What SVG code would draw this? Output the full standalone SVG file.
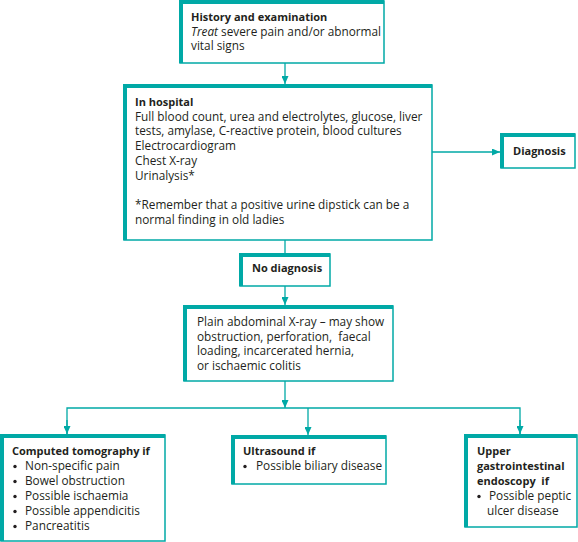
<svg xmlns="http://www.w3.org/2000/svg" width="578" height="542" viewBox="0 0 578 542">
<defs>
<style>
.box{fill:#fff;stroke:#00a9a6;stroke-width:1.5}
.thick{fill:none;stroke:#00a9a6;stroke-width:4}
.con{fill:none;stroke:#00a9a6;stroke-width:1.3}
.ah{fill:#00a9a6}
.dot{fill:#231f20}
text{font-family:"Open Sans","Noto Sans",sans-serif;font-size:11.8px;fill:#231f20}
.b{font-weight:bold;font-size:11px}
</style>
<marker id="arr" viewBox="0 0 8 7" refX="8" refY="3.5" markerWidth="8" markerHeight="7" markerUnits="userSpaceOnUse" orient="auto">
<path d="M0,0 L8,3.5 L0,7 Z" class="ah"/>
</marker>
</defs>
<rect width="578" height="542" fill="#fff"/>
<g id="connectors">
<path class="con" d="M285,63 V84" marker-end="url(#arr)"/>
<path class="con" d="M432,152 H500" marker-end="url(#arr)"/>
<path class="con" d="M285,240 V253"/>
<path class="con" d="M285,286 V305" marker-end="url(#arr)"/>
<path class="con" d="M285,381 V408" marker-end="url(#arr)"/>
<path class="con" d="M67,434 V408 H520 V434"/>
<path class="con" d="M67,420 V434" marker-end="url(#arr)"/>
<path class="con" d="M520,420 V434" marker-end="url(#arr)"/>
<path class="con" d="M308,408 V435" marker-end="url(#arr)"/>
</g>
<g id="history">
<rect class="box" x="180" y="1" width="204" height="62"/>
<path class="thick" d="M181,63 V2 H384"/>
<text x="191" y="21"><tspan class="b">History and examination</tspan><tspan x="191" dy="14.5"><tspan font-style="italic">Treat</tspan> severe pain and/or abnormal</tspan><tspan x="191" dy="14.5">vital signs</tspan></text>
</g>
<g id="hospital">
<rect class="box" x="124" y="85" width="308" height="155"/>
<path class="thick" d="M125,240 V86 H432"/>
<text x="135" y="106"><tspan class="b">In hospital</tspan><tspan x="135" dy="14.7">Full blood count, urea and electrolytes, glucose, liver</tspan><tspan x="135" dy="14.7">tests, amylase, C-reactive protein, blood cultures</tspan><tspan x="135" dy="14.7">Electrocardiogram</tspan><tspan x="135" dy="14.7">Chest X-ray</tspan><tspan x="135" dy="14.7">Urinalysis*</tspan><tspan x="135" dy="29.4">*Remember that a positive urine dipstick can be a</tspan><tspan x="135" dy="14.7">normal finding in old ladies</tspan></text>
</g>
<g id="diagnosis">
<rect class="box" x="501" y="134" width="74" height="34"/>
<path class="thick" d="M502,168 V135 H575"/>
<text class="b" x="513" y="155">Diagnosis</text>
</g>
<g id="nodiagnosis">
<rect class="box" x="240" y="254" width="90" height="32"/>
<path class="thick" d="M241,286 V255 H330"/>
<text class="b" x="252" y="272">No diagnosis</text>
</g>
<g id="xray">
<rect class="box" x="184" y="306" width="209" height="75"/>
<path class="thick" d="M185,381 V307 H393"/>
<text x="197" y="326"><tspan>Plain abdominal X-ray – may show</tspan><tspan x="197" dy="14.7">obstruction, perforation,&#160; faecal</tspan><tspan x="197" dy="14.7">loading, incarcerated hernia,</tspan><tspan x="197" dy="14.7">or ischaemic colitis</tspan></text>
</g>
<g id="ct">
<rect class="box" x="1" y="435" width="164" height="106"/>
<path class="thick" d="M2,541 V436 H165"/>
<circle class="dot" cx="15" cy="466.5" r="1.7"/>
<circle class="dot" cx="15" cy="481.5" r="1.7"/>
<circle class="dot" cx="15" cy="496.5" r="1.7"/>
<circle class="dot" cx="15" cy="511.5" r="1.7"/>
<circle class="dot" cx="15" cy="526.5" r="1.7"/>
<text x="12" y="455"><tspan class="b">Computed tomography if</tspan><tspan x="25" dy="15">Non-specific pain</tspan><tspan x="25" dy="15">Bowel obstruction</tspan><tspan x="25" dy="15">Possible ischaemia</tspan><tspan x="25" dy="15">Possible appendicitis</tspan><tspan x="25" dy="15">Pancreatitis</tspan></text>
</g>
<g id="ultrasound">
<rect class="box" x="232" y="436" width="154" height="48"/>
<path class="thick" d="M233,484 V437 H386"/>
<circle class="dot" cx="245" cy="466.5" r="1.7"/>
<text x="243" y="455"><tspan class="b">Ultrasound if</tspan><tspan x="256" dy="15">Possible biliary disease</tspan></text>
</g>
<g id="endoscopy">
<rect class="box" x="465" y="435" width="112" height="92"/>
<path class="thick" d="M466,527 V436 H577"/>
<circle class="dot" cx="479" cy="496.5" r="1.7"/>
<text x="477" y="455"><tspan class="b">Upper</tspan><tspan class="b" x="477" dy="15">gastrointestinal</tspan><tspan class="b" x="477" dy="15">endoscopy&#160; if</tspan><tspan x="489" dy="15">Possible peptic</tspan><tspan x="487" dy="15">ulcer disease</tspan></text>
</g>
</svg>
